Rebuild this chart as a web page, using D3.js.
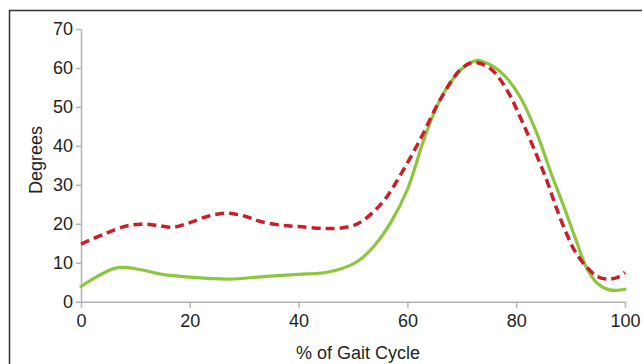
<!DOCTYPE html>
<html><head><meta charset="utf-8">
<script src="https://cdn.jsdelivr.net/npm/d3@7"></script>
<style>body{margin:0;background:#fff}svg{display:block}</style>
</head><body>
<script>
const xTicks = [0, 20, 40, 60, 80, 100];
const yTicks = [0, 10, 20, 30, 40, 50, 60, 70];
const greenX = [0, 3, 6, 8, 11, 15, 20, 27, 34, 40, 45, 48, 51, 54, 57, 60, 63, 65, 67, 70, 72.7, 74, 76, 78, 80.7, 83.8, 86.2, 89, 91, 93, 95, 97, 98.5, 100];
const greenY = [3.9, 6.5, 8.5, 8.8, 8.2, 7.0, 6.3, 5.8, 6.5, 7.0, 7.5, 8.5, 10.5, 14.5, 20.5, 28.8, 41.5, 48.8, 54.3, 59.8, 61.9, 61.6, 60.2, 57.8, 52.6, 43.2, 33.8, 23.5, 15.8, 8.5, 4.6, 3.1, 2.9, 3.2];
const redX = [0, 4, 8, 11, 14, 17, 20, 23.5, 26.8, 30, 33, 37, 40, 44.6, 48.2, 50.5, 52, 54, 56, 58.5, 62.3, 66, 69.7, 72, 75.2, 78.3, 80.7, 83.1, 85.6, 87.4, 89.3, 91, 93, 95, 96.6, 98.5, 100];
const redY = [14.8, 17.2, 19.3, 19.9, 19.6, 19.1, 20.3, 22.0, 22.7, 22.0, 20.6, 19.6, 19.3, 18.8, 19.0, 19.8, 21.0, 23.4, 26.5, 32, 41.5, 51.8, 59.5, 61.4, 59.9, 54.3, 47.5, 39.8, 31.2, 24, 17.3, 12.5, 8.8, 6.4, 5.8, 6.2, 7.5];

const W = 642, H = 364;
const svg = d3.select("body").append("svg").attr("width", W).attr("height", H);
const x = d3.scaleLinear().domain([0, 100]).range([81, 625]);
const y = d3.scaleLinear().domain([0, 70]).range([301.7, 29]);

// frame (top and left visible)
svg.append("path").attr("d", `M9.5,${H} L9.5,10.5 L${W},10.5`).attr("fill", "none").attr("stroke", "#333").attr("stroke-width", 1.5);

const font = "'Liberation Sans', Arial, sans-serif";
const txt = "#231f20";
const gx = svg.append("g").attr("transform", `translate(0,${y(0)})`)
  .call(d3.axisBottom(x).tickValues(xTicks).tickSize(6).tickSizeOuter(0).tickPadding(7));
const gy = svg.append("g").attr("transform", `translate(${x(0)},0)`)
  .call(d3.axisLeft(y).tickValues(yTicks).tickSize(5).tickSizeOuter(0).tickPadding(3));
[gx, gy].forEach(g => {
  g.select(".domain").attr("stroke", "#b3b3b3").attr("stroke-width", 1.5);
  g.selectAll(".tick line").attr("stroke", "#b3b3b3").attr("stroke-width", 1.5);
  g.selectAll(".tick text").attr("fill", txt).style("font-family", font).style("font-size", "18px");
});

const line = (xs, ys) => d3.line().x((d, i) => x(xs[i])).y((d, i) => y(ys[i])).curve(d3.curveCatmullRom.alpha(0.5))(ys);

svg.append("path").attr("d", line(greenX, greenY)).attr("fill", "none")
  .attr("stroke", "#8cc63f").attr("stroke-width", 3.2).attr("stroke-linecap", "round");
svg.append("path").attr("d", line(redX, redY)).attr("fill", "none")
  .attr("stroke", "#c8202a").attr("stroke-width", 3.5).attr("stroke-dasharray", "9,5");

svg.append("text").attr("transform", `translate(42,160) rotate(-90)`).attr("text-anchor", "middle")
  .style("font-family", font).style("font-size", "18px").attr("fill", txt).text("Degrees");
svg.append("text").attr("x", 358).attr("y", 359).attr("text-anchor", "middle")
  .style("font-family", font).style("font-size", "18px").attr("fill", txt).text("% of Gait Cycle");
</script>
</body></html>
